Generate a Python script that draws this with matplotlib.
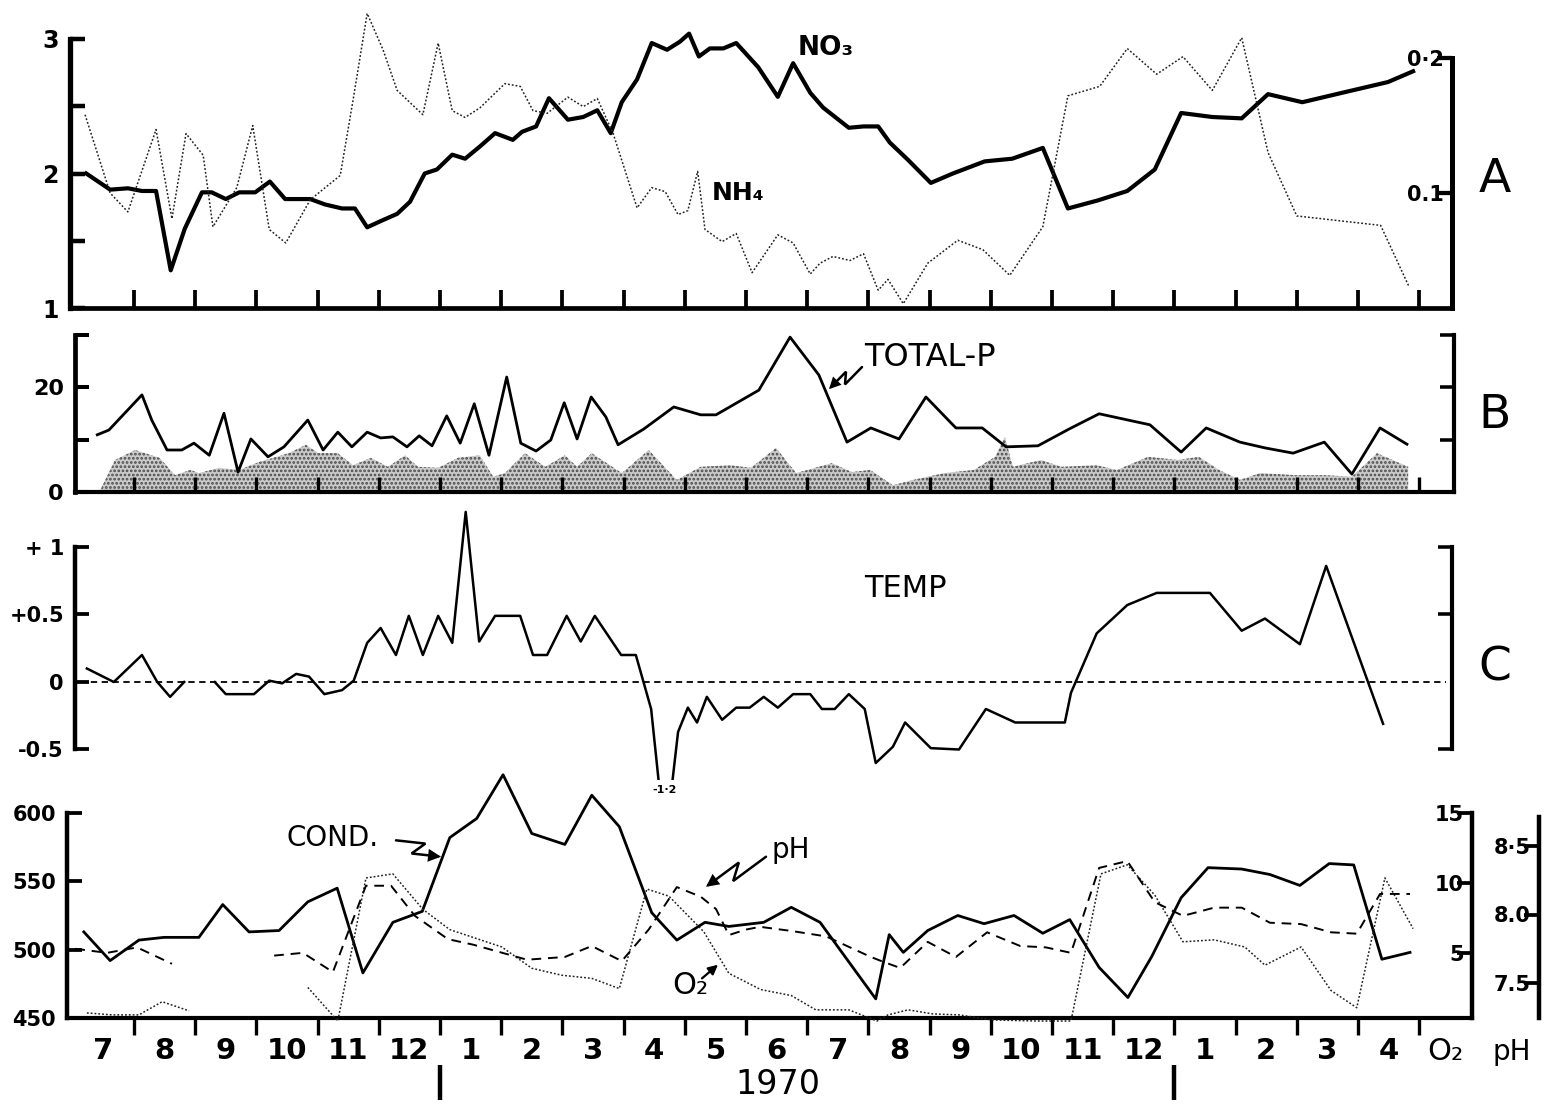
import matplotlib
matplotlib.use("Agg")
import matplotlib.pyplot as plt
import numpy as np
from matplotlib.patches import FancyArrowPatch
from matplotlib.path import Path
from matplotlib.transforms import blended_transform_factory

W, H = 1555, 1109
NUM = ["DejaVu Sans"]
NARROW = ["Liberation Sans Narrow", "DejaVu Sans"]
SANS = ["DejaVu Sans"]
nan = float("nan")

# time axis: months counted from 1 July 1969, labels sit mid-month
MONTH_LABELS = ["7", "8", "9", "10", "11", "12", "1", "2", "3", "4", "5",
                "6", "7", "8", "9", "10", "11", "12", "1", "2", "3", "4"]
JANUARIES = [6, 18]
YEAR = "1970"

# A: nitrate (left scale) and ammonium (right scale)
no3_t = [0.22, 0.61, 0.90, 1.13, 1.36, 1.60, 1.83, 2.11, 2.27, 2.50, 2.72, 2.98,
         3.22, 3.47, 3.88, 4.12, 4.40, 4.61, 4.81, 5.05, 5.30, 5.51, 5.75, 5.95,
         6.20, 6.41, 6.65, 6.90, 7.19, 7.34, 7.57, 7.78, 8.09, 8.34, 8.57, 8.79,
         8.97, 9.22, 9.46, 9.71, 9.92, 10.07, 10.23, 10.41, 10.63, 10.84, 11.20,
         11.52, 11.77, 12.05, 12.26, 12.68, 12.92, 13.16, 13.35, 13.65, 14.02,
         14.38, 14.90, 15.35, 15.85, 16.26, 16.75, 17.23, 17.68, 18.11, 18.62,
         19.10, 19.53, 20.09, 20.74, 21.49, 21.90]
no3 = [2.00, 1.88, 1.89, 1.87, 1.87, 1.28, 1.59, 1.86, 1.86, 1.81, 1.86, 1.86,
       1.94, 1.81, 1.81, 1.77, 1.74, 1.74, 1.60, 1.65, 1.70, 1.79, 2.00, 2.03,
       2.14, 2.11, 2.20, 2.30, 2.25, 2.31, 2.35, 2.56, 2.40, 2.42, 2.47, 2.30,
       2.53, 2.70, 2.97, 2.92, 2.98, 3.04, 2.87, 2.93, 2.93, 2.97, 2.79, 2.57,
       2.82, 2.60, 2.49, 2.34, 2.35, 2.35, 2.23, 2.10, 1.93, 2.00, 2.09, 2.11,
       2.19, 1.74, 1.80, 1.87, 2.03, 2.45, 2.42, 2.41, 2.59, 2.53, 2.60, 2.68, 2.76]
nh4_t = [0.20, 0.61, 0.90, 1.36, 1.62, 1.85, 2.13, 2.29, 2.68, 2.94, 3.21, 3.48,
         3.88, 4.37, 4.58, 4.81, 5.07, 5.30, 5.72, 5.97, 6.20, 6.41, 6.65, 7.06,
         7.31, 7.52, 7.75, 8.09, 8.34, 8.57, 8.83, 9.22, 9.46, 9.68, 9.89, 10.05,
         10.21, 10.33, 10.61, 10.84, 11.10, 11.52, 11.77, 12.05, 12.21, 12.42,
         12.70, 12.92, 13.16, 13.32, 13.57, 13.97, 14.46, 14.87, 15.31, 15.85,
         16.26, 16.78, 17.23, 17.71, 18.14, 18.62, 19.10, 19.53, 20.00, 21.37, 21.83]
nh4 = [0.158, 0.100, 0.086, 0.147, 0.081, 0.144, 0.128, 0.075, 0.104, 0.150,
       0.073, 0.063, 0.095, 0.113, 0.169, 0.233, 0.206, 0.176, 0.158, 0.211,
       0.161, 0.156, 0.163, 0.181, 0.179, 0.161, 0.159, 0.171, 0.164, 0.170,
       0.144, 0.089, 0.104, 0.101, 0.084, 0.087, 0.116, 0.073, 0.064, 0.070,
       0.041, 0.069, 0.063, 0.040, 0.048, 0.053, 0.050, 0.055, 0.028, 0.036,
       0.018, 0.048, 0.065, 0.058, 0.039, 0.075, 0.172, 0.179, 0.207, 0.188,
       0.201, 0.176, 0.215, 0.130, 0.083, 0.076, 0.031]

# B: total phosphorus and the stippled fraction underneath
tp_t = [0.40, 0.59, 1.13, 1.29, 1.54, 1.78, 1.98, 2.23, 2.47, 2.70, 2.91, 3.19,
        3.45, 3.84, 4.09, 4.33, 4.56, 4.81, 5.03, 5.23, 5.46, 5.66, 5.87, 6.11,
        6.33, 6.56, 6.80, 7.09, 7.32, 7.57, 7.81, 8.03, 8.24, 8.47, 8.71, 8.91,
        9.33, 9.82, 10.26, 10.51, 11.21, 11.72, 12.19, 12.65, 13.04, 13.50, 13.94,
        14.43, 14.86, 15.25, 15.77, 16.28, 16.77, 17.60, 18.11, 18.52, 19.07,
        19.48, 19.94, 20.45, 20.90, 21.36, 21.80]
tp = [10.9, 11.8, 18.5, 13.7, 8.0, 8.0, 9.3, 7.0, 15.0, 3.8, 10.1, 6.7, 8.6,
      13.7, 8.0, 11.4, 8.6, 11.4, 10.3, 10.5, 8.6, 10.7, 8.8, 14.5, 9.3, 16.8,
      7.0, 21.9, 9.3, 7.8, 9.9, 17.0, 10.1, 18.1, 14.3, 9.0, 12.0, 16.2, 14.7,
      14.7, 19.4, 29.5, 22.3, 9.5, 12.2, 10.1, 18.1, 12.2, 12.2, 8.6, 8.8, 12.0,
      14.9, 12.8, 7.6, 12.2, 9.5, 8.4, 7.4, 9.5, 3.4, 12.2, 9.1]
part_t = [0.45, 0.69, 1.02, 1.42, 1.67, 1.92, 2.06, 2.39, 2.72, 3.04, 3.53, 3.81,
          4.01, 4.33, 4.58, 4.87, 5.15, 5.43, 5.64, 5.97, 6.29, 6.65, 6.87, 7.06,
          7.39, 7.72, 8.04, 8.24, 8.48, 8.97, 9.41, 9.87, 10.26, 10.75, 11.08,
          11.49, 11.82, 12.40, 12.73, 13.03, 13.40, 13.73, 14.24, 14.72, 15.07,
          15.23, 15.36, 15.82, 16.15, 16.73, 17.06, 17.57, 18.06, 18.40, 18.73,
          19.07, 19.40, 19.99, 20.48, 20.90, 21.31, 21.82]
part = [0.4, 6.1, 8.0, 6.5, 3.2, 4.2, 3.6, 4.6, 4.2, 5.7, 7.4, 9.0, 7.4, 7.4,
        5.1, 6.5, 4.8, 7.0, 4.8, 4.6, 6.5, 7.0, 2.9, 3.6, 7.4, 4.8, 7.0, 4.8,
        7.4, 3.6, 8.0, 2.3, 4.8, 5.1, 4.6, 8.4, 3.6, 5.5, 3.8, 4.2, 1.3, 2.3,
        3.6, 4.2, 6.7, 10.5, 4.8, 6.1, 4.8, 5.1, 4.2, 6.7, 6.1, 6.7, 4.2, 2.3,
        3.6, 3.2, 3.2, 2.9, 7.4, 4.8]

# C: temperature anomaly
temp_t = [0.23, 0.67, 1.13, 1.38, 1.59, 1.82, 2.07, 2.32, 2.50, 2.96, 3.21, 3.42,
          3.65, 3.86, 4.11, 4.40, 4.59, 4.81, 5.03, 5.28, 5.49, 5.72, 5.97, 6.20,
          6.42, 6.64, 6.90, 7.31, 7.52, 7.75, 8.07, 8.30, 8.53, 8.96, 9.20, 9.45,
          9.68, 9.89, 10.05, 10.20, 10.36, 10.61, 10.84, 11.06, 11.29, 11.52,
          11.77, 12.05, 12.24, 12.45, 12.68, 12.94, 13.12, 13.40, 13.60, 14.02,
          14.48, 14.92, 15.40, 16.21, 16.31, 16.73, 17.23, 17.71, 18.58, 19.10,
          19.48, 20.05, 20.48, 21.41]
temp = [0.10, 0.0, 0.20, 0.0, -0.11, 0.0, nan, 0.0, -0.09, -0.09, 0.01, -0.01,
        0.06, 0.04, -0.09, -0.06, 0.01, 0.29, 0.40, 0.20, 0.49, 0.20, 0.49, 0.29,
        1.26, 0.30, 0.49, 0.49, 0.20, 0.20, 0.49, 0.30, 0.49, 0.20, 0.20, -0.20,
        -1.2, -0.37, -0.19, -0.30, -0.11, -0.28, -0.19, -0.19, -0.11, -0.19,
        -0.09, -0.09, -0.20, -0.20, -0.09, -0.20, -0.60, -0.48, -0.30, -0.49,
        -0.50, -0.20, -0.30, -0.30, -0.08, 0.36, 0.57, 0.66, 0.66, 0.38, 0.47,
        0.28, 0.86, -0.31]

# D: conductivity, pH and oxygen
cond_t = [0.18, 0.61, 1.08, 1.49, 2.06, 2.45, 2.88, 3.37, 3.84, 4.32, 4.74, 5.23,
          5.71, 6.16, 6.60, 7.03, 7.50, 8.04, 8.48, 8.93, 9.46, 9.87, 10.33, 10.72,
          11.29, 11.74, 12.21, 13.12, 13.34, 13.57, 13.97, 14.46, 14.89, 15.38,
          15.85, 16.29, 16.77, 17.24, 17.63, 18.11, 18.55, 19.10, 19.56, 20.05,
          20.53, 20.93, 21.39, 21.85]
cond = [513, 492, 507, 509, 509, 533, 513, 514, 535, 545, 483, 520, 528, 582,
        596, 628, 585, 577, 613, 590, 527, 507, 520, 517, 520, 531, 520, 464,
        511, 498, 514, 525, 519, 525, 512, 522, 487, 465, 495, 538, 560, 559,
        555, 547, 563, 562, 493, 498]
ph_t = [0.04, 0.56, 1.05, 1.62, 2.50, 3.29, 3.76, 4.25, 4.79, 5.20, 5.59, 6.13,
        6.54, 7.42, 8.04, 8.48, 8.97, 9.41, 9.87, 10.26, 10.51, 10.72, 11.00,
        11.23, 11.74, 12.31, 13.04, 13.27, 13.52, 13.97, 14.43, 14.94, 15.48,
        15.90, 16.31, 16.77, 17.23, 17.68, 18.14, 18.65, 19.10, 19.56, 20.07,
        20.56, 20.98, 21.36, 21.85]
ph = [7.75, 7.72, 7.76, 7.64, nan, 7.70, 7.72, 7.58, 8.21, 8.21, 7.99, 7.82,
      7.78, 7.67, 7.69, 7.77, 7.66, 7.89, 8.20, 8.13, 8.04, 7.85, 7.89, 7.91,
      7.88, 7.84, 7.69, 7.65, 7.61, 7.80, 7.69, 7.87, 7.77, 7.76, 7.72, 8.34,
      8.39, 8.09, 7.99, 8.05, 8.05, 7.94, 7.93, 7.87, 7.86, 8.15, 8.15]
o2_t = [0.23, 0.64, 1.08, 1.46, 1.90, 2.90, 3.84, 4.33, 4.79, 5.23, 5.72, 6.16,
        7.01, 7.50, 7.99, 8.48, 8.93, 9.38, 9.74, 10.31, 10.72, 11.24, 11.74,
        12.14, 12.68, 13.14, 13.32, 13.65, 14.05, 14.48, 15.02, 15.77, 16.31,
        16.80, 17.23, 17.68, 18.14, 18.65, 19.15, 19.48, 20.07, 20.56, 20.98,
        21.44, 21.90]
o2 = [0.72, 0.58, 0.58, 1.52, 0.87, nan, 2.54, 0.14, 10.36, 10.65, 8.12, 6.67,
      5.43, 3.91, 3.41, 3.19, 2.46, 9.57, 9.06, 6.52, 3.55, 2.39, 1.96, 0.94,
      0.94, 0.14, 0.58, 0.94, 0.65, 0.58, 0.22, 0.14, 0.14, 10.65, 11.30, 9.13,
      5.80, 5.94, 5.43, 4.13, 5.43, 2.32, 1.09, 10.36, 6.74]

fig = plt.figure(figsize=(W / 100, H / 100), dpi=100)
X_LEFT, X_RIGHT = 60, 1550          # horizontal pixel extent shared by all panels
boundaries = list(range(1, len(MONTH_LABELS) + 1))


def mx(px):
    """pixel column -> months since 1 July 1969"""
    return (px - 72.8) / 61.2


def panel(top, bottom):
    ax = fig.add_axes([X_LEFT / W, 1 - bottom / H, (X_RIGHT - X_LEFT) / W, (bottom - top) / H])
    ax.set_xlim(mx(X_LEFT), mx(X_RIGHT))
    bare(ax)
    return ax


def bare(ax):
    ax.patch.set_visible(False)
    for s in ax.spines.values():
        s.set_visible(False)
    ax.tick_params(which="both", left=False, right=False, bottom=False, top=False,
                   labelleft=False, labelright=False, labelbottom=False, labeltop=False)


def scale(ax, top, bottom, ref1, ref2):
    (p1, v1), (p2, v2) = ref1, ref2
    k = (v2 - v1) / (p2 - p1)
    ax.set_ylim(v1 + (bottom - p1) * k, v1 + (top - p1) * k)


def yaxis(ax, side, xpx, lo, hi, ticks, labels=None, lw=3.4, size=16, pad=6, length=11):
    sp = ax.spines[side]
    sp.set_visible(True)
    sp.set_position(("data", mx(xpx)))
    sp.set_bounds(lo, hi)
    sp.set_linewidth(lw)
    sp.set_capstyle("projecting")
    ax.set_yticks(ticks, labels if labels else [""] * len(ticks),
                  family=NUM, weight="bold", fontsize=size)
    if side == "left":
        ax.tick_params(axis="y", left=True, labelleft=True, direction="in",
                       length=length, width=lw * 0.85, pad=pad)
    else:
        ax.tick_params(axis="y", right=True, labelright=True, direction="in",
                       length=length, width=lw * 0.85, pad=-pad)
        for lab in ax.get_yticklabels():
            lab.set_horizontalalignment("right")


def xaxis(ax, x0px, x1px, direction, lw=3.2, length=11):
    sp = ax.spines["bottom"]
    sp.set_visible(True)
    sp.set_bounds(mx(x0px), mx(x1px))
    sp.set_linewidth(lw)
    ax.set_xticks(boundaries)
    ax.tick_params(axis="x", which="major", bottom=True, direction=direction,
                   length=length, width=lw * 0.8)


def bolt(ax, tail, tip, lw=1.8, zig=6, head=16):
    """lightning-style arrow from tail to tip, both in data coordinates"""
    a, b = ax.transData.transform([tail, tip])
    d = b - a
    n = np.array([-d[1], d[0]]) / np.hypot(*d)
    pts = [a, a + 0.60 * d + zig * n, a + 0.40 * d - zig * n, b]
    pts = ax.transData.inverted().transform(pts)
    path = Path(pts, [Path.MOVETO] + [Path.LINETO] * 3)
    ax.add_patch(FancyArrowPatch(path=path, arrowstyle="-|>", mutation_scale=head,
                                 lw=lw, color="k", joinstyle="miter", clip_on=False))


# ---- A --------------------------------------------------------------
ax_a = panel(5, 308)
scale(ax_a, 5, 308, (39, 3.0), (308, 1.0))
ax_nh = ax_a.twinx()
bare(ax_nh)
scale(ax_nh, 5, 308, (58, 0.2), (193, 0.1))
yaxis(ax_a, "left", 70, 1, 3, [1, 1.5, 2, 2.5, 3], ["1", "", "2", "", "3"], lw=3.8, size=17, pad=8)
yaxis(ax_nh, "right", 1452, ax_nh.get_ylim()[0], 0.2, [0.1, 0.2], ["0.1", "0·2"], lw=3.6, size=15, pad=6)
xaxis(ax_a, 70, 1452, "in", lw=3.4, length=13)
ax_nh.plot(nh4_t, nh4, color="#222222", lw=1.1, ls=(0, (1.2, 1.3)))
ax_a.plot(no3_t, no3, color="k", lw=3.0, zorder=3)
ax_a.text(mx(798), 2.93, "NO\u2083", family=SANS, weight="bold", fontsize=19, va="center")
ax_a.text(mx(712), 1.855, "NH\u2084", family=SANS, weight="bold", fontsize=18, va="center")

# ---- B --------------------------------------------------------------
ax_b = panel(322, 492)
scale(ax_b, 322, 492, (387, 20), (492, 0))
ax_br = ax_b.twinx()
bare(ax_br)
ax_br.set_ylim(ax_b.get_ylim())
yaxis(ax_b, "left", 75, 0, 30, [0, 10, 20, 30], ["0", "", "20", ""], lw=3.4, size=16, pad=8, length=10)
yaxis(ax_br, "right", 1454, 0, 30, [0, 10, 20, 30], lw=3.0, length=10)
xaxis(ax_b, 75, 1454, "in", lw=3.0, length=11)
plt.rcParams["hatch.linewidth"] = 1.3
ax_b.fill_between(part_t, 0, part, facecolor="#cacaca", edgecolor="#4a4a4a",
                  hatch="....", lw=0, zorder=1)
ax_b.plot(tp_t, tp, color="k", lw=2.0, zorder=3)
ax_b.text(mx(864), 25.7, "TOTAL-P", family=SANS, fontsize=23, va="center")
bolt(ax_b, (mx(862), 23.8), (mx(829), 19.6), zig=5, head=14)

# ---- C --------------------------------------------------------------
ax_c = panel(500, 780)
scale(ax_c, 500, 780, (682, 0.0), (547, 1.0))
ax_cr = ax_c.twinx()
bare(ax_cr)
ax_cr.set_ylim(ax_c.get_ylim())
yaxis(ax_c, "left", 75, -0.5, 1, [-0.5, 0, 0.5, 1], ["-0.5", "0", "+0.5", "+ 1"],
      lw=3.2, size=15, pad=8, length=10)
yaxis(ax_cr, "right", 1452, -0.5, 1, [-0.5, 0.5, 1], lw=3.0, length=10)
ax_c.hlines(0, mx(80), mx(1446), color="k", lw=1.3, ls=(0, (3.5, 2.5)))
ax_c.plot(temp_t, temp, color="k", lw=1.8, zorder=3)
ax_c.text(mx(665), -0.80, "-1·2", family=NUM, weight="bold", fontsize=8, ha="center",
          va="center", clip_on=False)
ax_c.text(mx(864), 0.69, "TEMP", family=SANS, fontsize=22, va="center")

# ---- D --------------------------------------------------------------
ax_d = panel(760, 1018)
scale(ax_d, 760, 1018, (813, 600), (1018, 450))
ax_o2 = ax_d.twinx()
bare(ax_o2)
scale(ax_o2, 760, 1018, (813, 15), (953, 5))
ax_ph = ax_d.twinx()
bare(ax_ph)
scale(ax_ph, 760, 1018, (846, 8.5), (983, 7.5))
yaxis(ax_d, "left", 67, 450, 600, [450, 500, 550, 600], ["450", "500", "550", "600"],
      lw=3.2, size=15, pad=8, length=11)
yaxis(ax_o2, "right", 1472, ax_o2.get_ylim()[0], 15, [5, 10, 15], ["5", "10", "15"],
      lw=3.2, size=15, pad=6, length=11)
yaxis(ax_ph, "right", 1539, ax_ph.get_ylim()[0], 8.71, [7.5, 8.0, 8.5], ["7.5", "8.0", "8·5"],
      lw=3.2, size=15, pad=6, length=11)
xaxis(ax_d, 67, 1472, "out", lw=3.0, length=12)
ax_d.set_xticks([i + 0.5 for i in range(len(MONTH_LABELS))], MONTH_LABELS, minor=True,
                family=NARROW, weight="bold", fontsize=21)
ax_d.tick_params(axis="x", which="minor", bottom=True, length=0, labelbottom=True, pad=14)

ax_o2.plot(o2_t, o2, color="#222222", lw=1.1, ls=(0, (1.2, 1.3)), clip_on=False)
ax_ph.plot(ph_t, ph, color="k", lw=1.4, ls=(0, (5, 3.5)))
ax_d.plot(cond_t, cond, color="k", lw=2.0, zorder=3)

ax_d.text(mx(287), 581.7, "COND.", family=SANS, fontsize=20, va="center")
bolt(ax_d, (mx(396), 580), (mx(441), 568), zig=7)
ax_d.text(mx(772), 573, "pH", family=SANS, fontsize=20, va="center")
bolt(ax_d, (mx(766), 568), (mx(706), 546), zig=7)
ax_d.text(mx(690), 474, "O\u2082", family=SANS, fontsize=22, va="center", ha="center")
ax_d.annotate("", xy=(mx(718), 489), xytext=(mx(702), 479),
              arrowprops=dict(arrowstyle="-|>", lw=1.6, color="k", mutation_scale=14,
                              shrinkA=0, shrinkB=0))

below = blended_transform_factory(ax_d.transData, fig.transFigure)
for m in JANUARIES:
    ax_d.plot([m, m], [1 - 1065 / H, 1 - 1100 / H], transform=below, color="k", lw=3.2,
              solid_capstyle="butt", clip_on=False)
ax_d.text(mx(778), 1 - 1085 / H, YEAR, transform=below, family=SANS, fontsize=24,
          ha="center", va="center")
ax_d.text(mx(1445), 1 - 1052 / H, "O\u2082", transform=below, family=SANS, fontsize=22,
          ha="center", va="center")
ax_d.text(mx(1512), 1 - 1052 / H, "pH", transform=below, family=SANS, fontsize=20,
          ha="center", va="center")

for letter, ypx in (("A", 180), ("B", 415), ("C", 668)):
    fig.text(1495 / W, 1 - ypx / H, letter, family=SANS, fontsize=34, ha="center", va="center")

fig.savefig("out.png", dpi=100)
